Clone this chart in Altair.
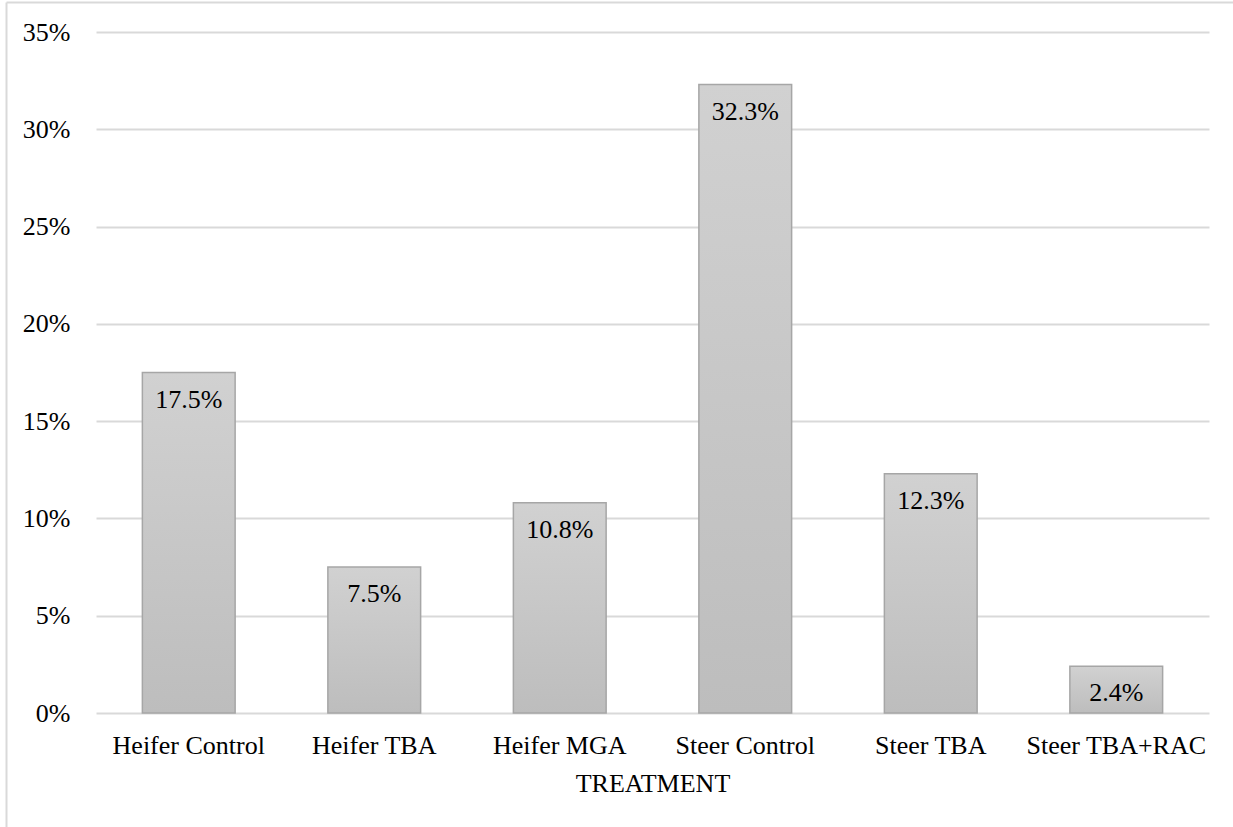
import altair as alt
import pandas as pd

# Treatment groups and their shares (percent)
treatments = ["Heifer Control", "Heifer TBA", "Heifer MGA",
              "Steer Control", "Steer TBA", "Steer TBA+RAC"]
shares_pct = [17.5, 7.5, 10.8, 32.3, 12.3, 2.4]

# Y-axis ticks (fractions)
y_ticks = [0, 0.05, 0.10, 0.15, 0.20, 0.25, 0.30, 0.35]

df = pd.DataFrame({
    "treatment": treatments,
    "share": [v / 100 for v in shares_pct],
})

FONT = "Liberation Serif"
PLOT_W, PLOT_H = 1113, 681

x_enc = alt.X(
    "treatment:N", sort=treatments, title="TREATMENT",
    scale=alt.Scale(paddingInner=0.5, paddingOuter=0.25),
    axis=alt.Axis(labelAngle=0, ticks=False, domain=False, grid=False,
                  labelPadding=19, titlePadding=12, labelFontSize=26,
                  titleFontSize=26, titleFontWeight="normal", labelLimit=0,
                  labelColor="#000000", titleColor="#000000",
                  labelFont=FONT, titleFont=FONT),
)
y_enc = alt.Y(
    "share:Q", title=None,
    scale=alt.Scale(domain=[0, 0.35], nice=False),
    axis=alt.Axis(values=y_ticks, format=".0%", ticks=False, domain=False,
                  grid=True, gridColor="#d9d9d9", gridWidth=2,
                  labelPadding=26, labelFontSize=26, labelColor="#000000",
                  labelFont=FONT),
)

bar_fill = alt.Gradient(
    gradient="linear", x1=0, y1=0, x2=0, y2=1,
    stops=[alt.GradientStop(color="#d1d1d1", offset=0),
           alt.GradientStop(color="#bdbdbd", offset=1)],
)

bars = alt.Chart(df).mark_bar(
    color=bar_fill, stroke="#a6a6a6", strokeWidth=1.5
).encode(x=x_enc, y=y_enc)

labels = alt.Chart(df).mark_text(
    baseline="top", dy=14, font=FONT, fontSize=26, color="#000000"
).encode(
    x=alt.X("treatment:N", sort=treatments),
    y=alt.Y("share:Q"),
    text=alt.Text("share:Q", format=".1%"),
)

# Light frame around the whole figure (top and left edges)
frame_df = pd.DataFrame({"k": [0]})
frame_top = alt.Chart(frame_df).mark_rule(color="#d9d9d9", strokeWidth=2).encode(
    x=alt.value(-89.5), x2=alt.value(PLOT_W + 40), y=alt.value(-29.5)
)
frame_left = alt.Chart(frame_df).mark_rule(color="#d9d9d9", strokeWidth=2).encode(
    x=alt.value(-89.5), y=alt.value(-29.5), y2=alt.value(PLOT_H + 140)
)

chart = alt.layer(bars, labels, frame_top, frame_left).properties(
    width=PLOT_W, height=PLOT_H,
    autosize=alt.AutoSizeParams(type="none"),
    padding={"left": 96, "top": 32, "right": 24, "bottom": 114},
    background="white",
).configure_view(stroke=None)

chart.save("out.html", embed_options={"renderer": "svg", "actions": False})
